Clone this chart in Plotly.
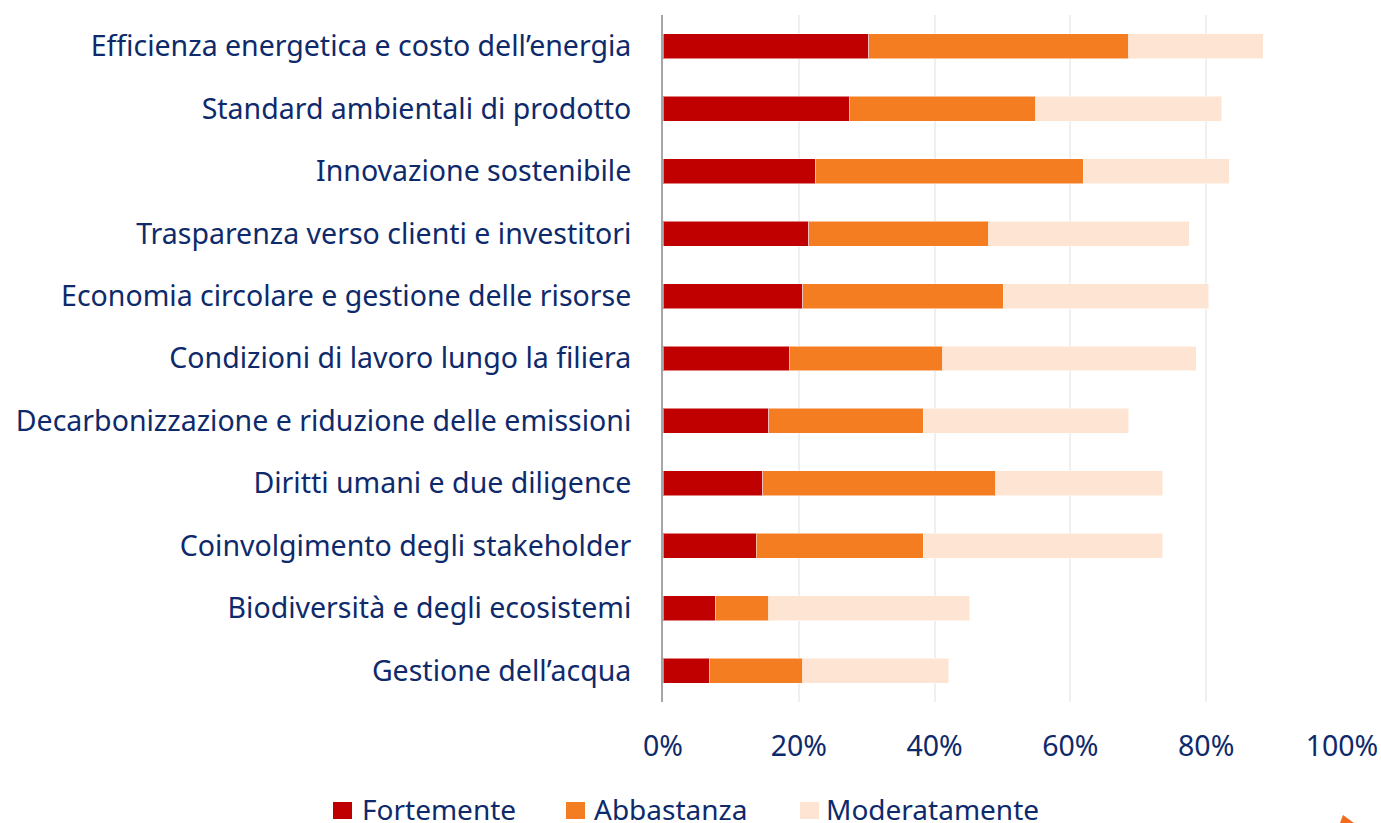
import plotly.graph_objects as go

categories = [
    "Efficienza energetica e costo dell’energia",
    "Standard ambientali di prodotto",
    "Innovazione sostenibile",
    "Trasparenza verso clienti e investitori",
    "Economia circolare e gestione delle risorse",
    "Condizioni di lavoro lungo la filiera",
    "Decarbonizzazione e riduzione delle emissioni",
    "Diritti umani e due diligence",
    "Coinvolgimento degli stakeholder",
    "Biodiversità e degli ecosistemi",
    "Gestione dell’acqua",
]
fortemente = [30.3, 27.4, 22.5, 21.5, 20.6, 18.6, 15.6, 14.7, 13.7, 7.8, 6.8]
abbastanza = [38.3, 27.5, 39.4, 26.5, 29.5, 22.6, 22.7, 34.3, 24.6, 7.8, 13.8]
moderatamente = [19.8, 27.4, 21.5, 29.5, 30.3, 37.3, 30.3, 24.6, 35.3, 29.6, 21.5]
series_names = ["Fortemente", "Abbastanza", "Moderatamente"]
series_colors = ["#C00000", "#F47D22", "#FDE4D3"]
tick_vals = [0, 20, 40, 60, 80, 100]
tick_text = ["0%", "20%", "40%", "60%", "80%", "100%"]

text_color = "#0E2A6B"
font_family = "Noto Sans, sans-serif"

W, H = 1381, 823
L, R, T, B = 663, 39, 15, 121
PW, PH = W - L - R, H - T - B


def px_x(px):
    return (px - L) / PW


def px_y(py):
    return (H - B - py) / PH


fig = go.Figure()
for name, vals, color in zip(series_names, [fortemente, abbastanza, moderatamente], series_colors):
    fig.add_trace(go.Bar(
        y=categories, x=vals, name=name, orientation="h",
        marker=dict(color=color, line=dict(color="rgba(255,255,255,0.5)", width=1)),
        width=0.4, showlegend=False,
    ))

# custom legend (larger square swatches, as in the reference)
legend_sq_x = [333, 566, 800]
legend_txt_x = [360, 592, 824]
legend_cy = 809
for name, color, sx, tx in zip(series_names, series_colors, legend_sq_x, legend_txt_x):
    fig.add_shape(type="rect", xref="paper", yref="paper",
                  x0=px_x(sx), x1=px_x(sx + 19), y0=px_y(legend_cy + 10), y1=px_y(legend_cy - 7),
                  fillcolor=color, line=dict(width=0))
    fig.add_annotation(text=name, xref="paper", yref="paper", x=px_x(tx), y=px_y(legend_cy),
                       xanchor="left", yanchor="middle", showarrow=False,
                       font=dict(size=28, color=text_color))

# small cut-off orange logo mark at the bottom-right corner
fig.add_shape(type="path", xref="paper", yref="paper",
              path=f"M {px_x(1340)} {px_y(823)} L {px_x(1343)} {px_y(815)} L {px_x(1354)} {px_y(823)} Z",
              fillcolor="#F26B1D", line=dict(width=0))

fig.update_layout(
    barmode="stack",
    width=W, height=H,
    margin=dict(l=L, r=R, t=T, b=B, autoexpand=False),
    plot_bgcolor="white", paper_bgcolor="white",
    font=dict(family=font_family, size=28, color=text_color),
    showlegend=False,
    xaxis=dict(
        range=[0, 100], tickvals=tick_vals, ticktext=tick_text,
        showgrid=True, gridcolor="#EFEFEF", gridwidth=2,
        zeroline=False, showline=False, ticklabelstandoff=24,
        tickfont=dict(size=28.5, color=text_color), automargin=False,
    ),
    yaxis=dict(
        autorange="reversed", showline=True, linecolor="#A6A6A6", linewidth=2,
        ticks="", ticklabelstandoff=24,
        tickfont=dict(size=28.5, color=text_color), automargin=False,
    ),
)

fig.write_html(
    "out.html",
    config={"displayModeBar": False},
    post_script="document.body.style.margin='0';document.body.style.overflow='hidden';",
)
